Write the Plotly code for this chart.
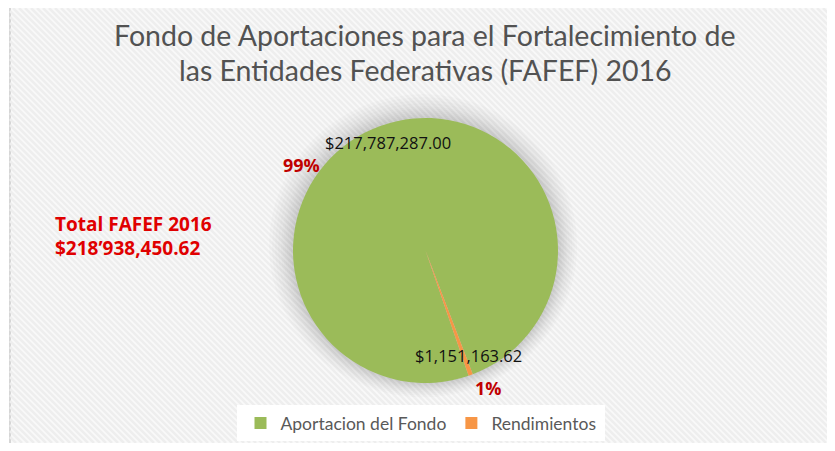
import plotly.graph_objects as go

# ---- data ----
labels = ["Aportacion del Fondo", "Rendimientos"]
values = [217787287.00, 1151163.62]
value_labels = ["$217,787,287.00", "$1,151,163.62"]
total_label = ["Total FAFEF 2016", "$218\u2019938,450.62"]
title_lines = ["Fondo de Aportaciones para el Fortalecimiento de",
               "las Entidades Federativas (FAFEF) 2016"]
colors = ["#9BBB59", "#F79646"]

# page body has an 8px margin; work in window pixel coordinates
OFF = 8
W, H = 835 - 2 * OFF, 451 - 2 * OFF
def px(x):
    return (x - OFF) / W
def py(y):
    return 1 - (y - OFF) / H

total = sum(values)
pcts = ["{:.0f}%".format(v / total * 100) for v in values]

fig = go.Figure()
fig.add_trace(go.Pie(
    labels=labels, values=values, sort=False, direction="clockwise",
    rotation=161, marker=dict(colors=colors, line=dict(width=0)),
    textinfo="none", hoverinfo="label+value+percent",
    domain=dict(x=[px(293), px(558)], y=[py(383), py(118)]),
))

shapes = []
# frame background
L, R, T, B = 10, 833, OFF, 451 - OFF
shapes.append(dict(type="rect", xref="paper", yref="paper", layer="below",
                   x0=px(L), x1=px(R), y0=py(B), y1=py(T),
                   fillcolor="#f9f9f9", line=dict(width=0)))
shapes.append(dict(type="line", xref="paper", yref="paper", layer="below",
                   x0=px(L), x1=px(L), y0=py(B), y1=py(T),
                   line=dict(color="#d6d6d6", width=2)))
# diagonal stripes
segs = []
c = L - (B - T)
while c < R:
    y_start = max(T, T + (L - c))
    y_end = min(B, T + (R - c))
    if y_end > y_start:
        x_s = (y_start - T) + c
        x_e = (y_end - T) + c
        segs.append("M{:.5f},{:.5f} L{:.5f},{:.5f}".format(px(x_s), py(y_start), px(x_e), py(y_end)))
    c += 6
shapes.append(dict(type="path", xref="paper", yref="paper", layer="below",
                   path=" ".join(segs), line=dict(color="#eeeeee", width=2.5)))
# soft shadow around pie
cx, cy, r = 425.5, 250.5, 132.5
for d in [24, 21, 18, 15, 12, 10, 8, 6, 4, 2]:
    shapes.append(dict(type="circle", xref="paper", yref="paper", layer="below",
                       x0=px(cx - r - d), x1=px(cx + r + d * 0.8),
                       y0=py(cy + r + d * 0.6), y1=py(cy - r - d),
                       fillcolor="rgba(0,0,0,0.016)", line=dict(width=0)))
# legend background
shapes.append(dict(type="rect", xref="paper", yref="paper", layer="below",
                   x0=px(237), x1=px(605), y0=py(441), y1=py(405),
                   fillcolor="white", line=dict(width=0)))

annotations = []
title_font = dict(family="Lato", size=28.5, color="#525252")
annotations.append(dict(text=title_lines[0], x=px(425), y=py(35), xref="paper", yref="paper",
                        showarrow=False, font=title_font, xanchor="center", yanchor="middle"))
annotations.append(dict(text=title_lines[1], x=px(425), y=py(70), xref="paper", yref="paper",
                        showarrow=False, font=title_font, xanchor="center", yanchor="middle"))
red_font = dict(family="Open Sans", size=19, color="#E00000", weight="bold")
annotations.append(dict(text=total_label[0], x=px(53), y=py(224), xref="paper", yref="paper",
                        showarrow=False, font=red_font, xanchor="left", yanchor="middle"))
annotations.append(dict(text=total_label[1], x=px(53), y=py(248), xref="paper", yref="paper",
                        showarrow=False, font=red_font, xanchor="left", yanchor="middle"))
val_font = dict(family="Open Sans", size=16.5, color="#111111")
pct_font = dict(family="Open Sans", size=18, color="#C00000", weight="bold")
annotations.append(dict(text=value_labels[0], x=px(388), y=py(143), xref="paper", yref="paper",
                        showarrow=False, font=val_font, xanchor="center", yanchor="middle"))
annotations.append(dict(text=pcts[0], x=px(301), y=py(165), xref="paper", yref="paper",
                        showarrow=False, font=pct_font, xanchor="center", yanchor="middle"))
annotations.append(dict(text=value_labels[1], x=px(468), y=py(355), xref="paper", yref="paper",
                        showarrow=False, font=val_font, xanchor="center", yanchor="middle"))
annotations.append(dict(text=pcts[1], x=px(488), y=py(388), xref="paper", yref="paper",
                        showarrow=False, font=pct_font, xanchor="center", yanchor="middle"))

fig.update_layout(
    width=W, height=H, margin=dict(l=0, r=0, t=0, b=0),
    paper_bgcolor="white", plot_bgcolor="white",
    shapes=shapes, annotations=annotations,
    showlegend=True,
    legend=dict(orientation="h", x=px(421), xanchor="center", y=py(423), yanchor="middle",
                bgcolor="rgba(0,0,0,0)", font=dict(family="Lato", size=17.5, color="#595959"),
                itemsizing="constant"),
)
fig.write_html("out.html")
